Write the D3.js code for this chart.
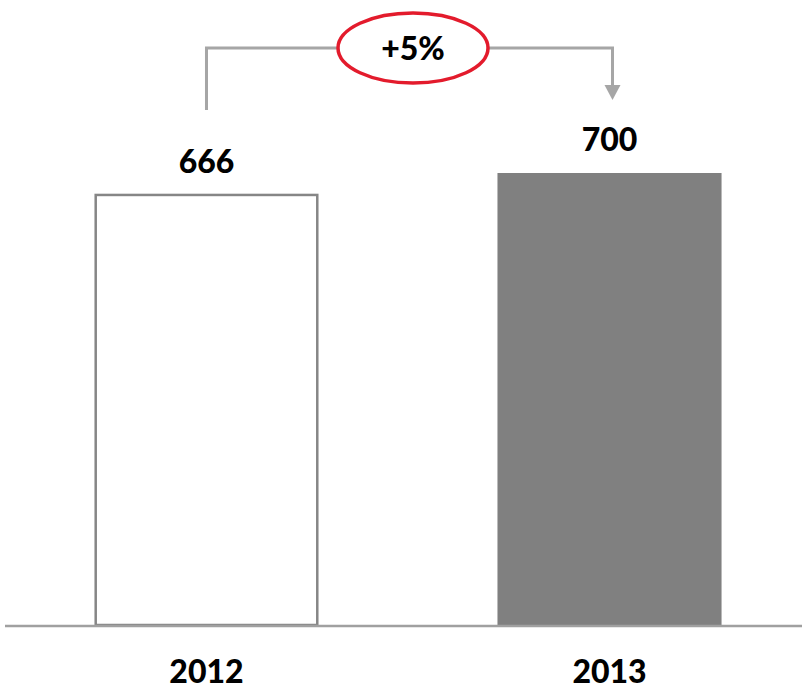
<!DOCTYPE html>
<html>
<head>
<meta charset="utf-8">
<script src="https://cdn.jsdelivr.net/npm/d3@7"></script>
<style>
  html, body { margin: 0; padding: 0; background: #fff; }
  svg { display: block; }
  text { font-family: Lato, "Open Sans", sans-serif; font-weight: 900; fill: #000; }
</style>
</head>
<body>
<svg id="chart" width="802" height="689"></svg>
<script>
// Yearly totals
const years = ["2012", "2013"];
const values = [666, 700];
const growthLabel = "+5%";

const W = 802, H = 689;
const svg = d3.select("#chart");

const baseY = 625;
const x = d3.scaleBand().domain(years).range([7, 809]).paddingInner(0.444).paddingOuter(0.217);
const y = d3.scaleLinear().domain([0, 700]).range([baseY, 173]);
const barW = x.bandwidth();

// Bars: first year outlined, second filled grey
years.forEach((yr, i) => {
  const x0 = x(yr);
  const cx = x0 + barW / 2;
  const top = y(values[i]);
  if (i === 0) {
    svg.append("rect")
      .attr("x", x0 + 1.25).attr("y", top)
      .attr("width", barW - 2.5).attr("height", baseY - top)
      .attr("fill", "#fff").attr("stroke", "#868686").attr("stroke-width", 2.5);
  } else {
    svg.append("rect")
      .attr("x", x0).attr("y", top)
      .attr("width", barW).attr("height", baseY - top)
      .attr("fill", "#808080");
  }
  // value label
  svg.append("text")
    .attr("x", cx).attr("y", top - 22)
    .attr("text-anchor", "middle").attr("font-size", 32)
    .text(values[i]);
  // category label
  svg.append("text")
    .attr("x", cx).attr("y", 683)
    .attr("text-anchor", "middle").attr("font-size", 32)
    .text(yr);
});

// Baseline
svg.append("line")
  .attr("x1", 5).attr("x2", W).attr("y1", baseY + 1).attr("y2", baseY + 1)
  .attr("stroke", "#a0a0a0").attr("stroke-width", 2.5);

// Growth connector with arrow
const lx = x("2012") + barW / 2, rx = x("2013") + barW / 2 + 3, ly = 48;
svg.append("path")
  .attr("d", `M${lx},110 V${ly} H${rx} V86`)
  .attr("fill", "none").attr("stroke", "#a6a6a6").attr("stroke-width", 3);
svg.append("path")
  .attr("d", `M${rx - 8},85 L${rx + 8},85 L${rx},100 Z`)
  .attr("fill", "#a6a6a6");

// Growth badge
const ex = 413, ey = 48;
svg.append("ellipse")
  .attr("cx", ex).attr("cy", ey).attr("rx", 75).attr("ry", 35)
  .attr("fill", "#fff").attr("stroke", "#e31b2c").attr("stroke-width", 3.5);
svg.append("text")
  .attr("x", ex).attr("y", ey + 12)
  .attr("text-anchor", "middle").attr("font-size", 32)
  .text(growthLabel);
</script>
</body>
</html>
